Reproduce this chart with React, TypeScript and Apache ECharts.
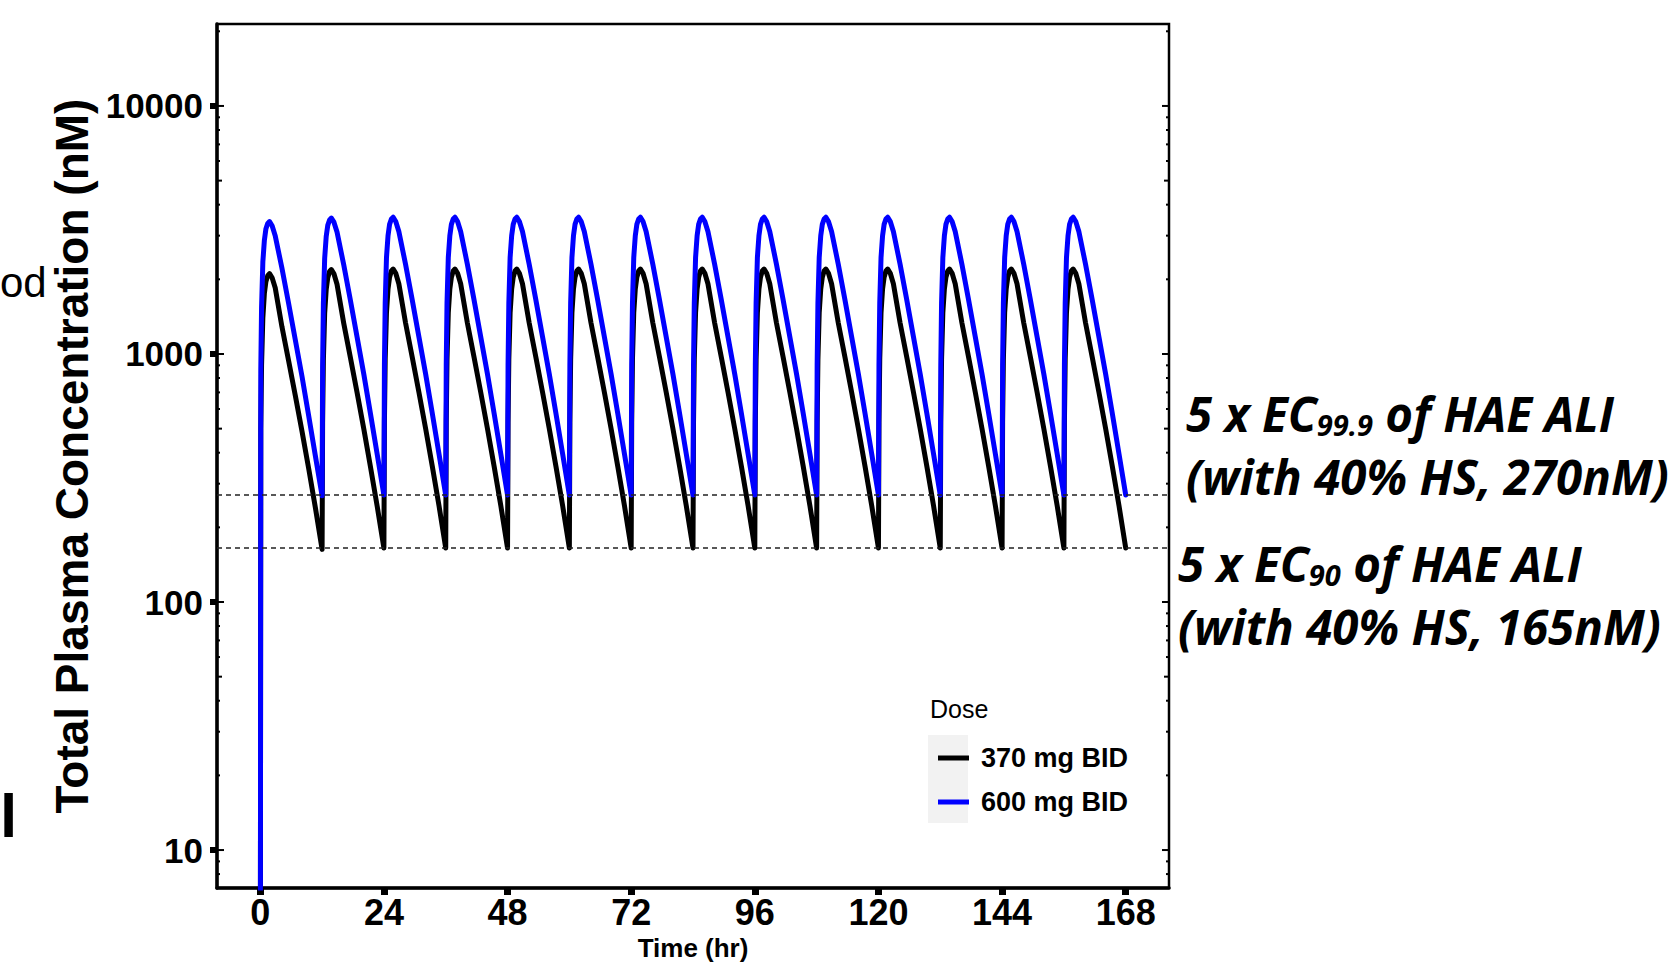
import React, { useEffect, useRef } from "react";
import * as echarts from "echarts";

// ---------- data ----------
const X_MIN = -8.4;
const X_MAX = 176.4;
const Y_MIN = 7.03;
const Y_MAX = 21400;

const X_TICKS = [0, 24, 48, 72, 96, 120, 144, 168];
const Y_TICKS = [10, 100, 1000, 10000];
const LOG_TICKS = [
  8, 9, 10, 20, 30, 40, 50, 60, 70, 80, 90, 100, 200, 300, 400, 500, 600, 700, 800, 900,
  1000, 2000, 3000, 4000, 5000, 6000, 7000, 8000, 9000, 10000, 20000,
];

const SERIES_NAMES = ["370 mg BID", "600 mg BID"];
const THRESHOLDS = [270, 165];

const DOSE_TIMES = [0, 12, 24, 36, 48, 60, 72, 84, 96, 108, 120, 132, 144, 156];
const CYCLE_OFFSETS = [0, 0.1, 0.25, 0.5, 0.8, 1.1, 1.45, 1.8, 2.3, 2.9, 4.2, 5.5, 6.8, 8.1, 9.4, 10.7];
const END_TIME = 168;

const CONC_370 = [
  [1, 500, 900, 1400, 1760, 1960, 2070, 2110, 2030, 1850, 1290, 940, 680, 488, 345, 240],
  [163, 525, 940, 1460, 1820, 2030, 2150, 2190, 2105, 1910, 1330, 965, 698, 498, 350, 243],
  [165, 530, 950, 1470, 1830, 2040, 2160, 2200, 2115, 1920, 1335, 970, 700, 500, 352, 244],
  [165, 530, 950, 1470, 1830, 2040, 2160, 2200, 2115, 1920, 1335, 970, 700, 500, 352, 244],
  [165, 530, 950, 1470, 1830, 2040, 2160, 2200, 2115, 1920, 1335, 970, 700, 500, 352, 244],
  [165, 530, 950, 1470, 1830, 2040, 2160, 2200, 2115, 1920, 1335, 970, 700, 500, 352, 244],
  [165, 530, 950, 1470, 1830, 2040, 2160, 2200, 2115, 1920, 1335, 970, 700, 500, 352, 244],
  [165, 530, 950, 1470, 1830, 2040, 2160, 2200, 2115, 1920, 1335, 970, 700, 500, 352, 244],
  [165, 530, 950, 1470, 1830, 2040, 2160, 2200, 2115, 1920, 1335, 970, 700, 500, 352, 244],
  [165, 530, 950, 1470, 1830, 2040, 2160, 2200, 2115, 1920, 1335, 970, 700, 500, 352, 244],
  [165, 530, 950, 1470, 1830, 2040, 2160, 2200, 2115, 1920, 1335, 970, 700, 500, 352, 244],
  [165, 530, 950, 1470, 1830, 2040, 2160, 2200, 2115, 1920, 1335, 970, 700, 500, 352, 244],
  [165, 530, 950, 1470, 1830, 2040, 2160, 2200, 2115, 1920, 1335, 970, 700, 500, 352, 244],
  [165, 530, 950, 1470, 1830, 2040, 2160, 2200, 2115, 1920, 1335, 970, 700, 500, 352, 244],
];
const END_370 = 165;

const CONC_600 = [
  [1, 860, 1540, 2350, 2880, 3200, 3360, 3420, 3290, 3000, 2220, 1600, 1140, 812, 563, 388],
  [268, 890, 1590, 2430, 2980, 3300, 3470, 3530, 3400, 3100, 2290, 1645, 1168, 828, 573, 394],
  [270, 900, 1600, 2450, 3000, 3330, 3500, 3560, 3420, 3120, 2300, 1650, 1170, 830, 575, 395],
  [270, 900, 1600, 2450, 3000, 3330, 3500, 3560, 3420, 3120, 2300, 1650, 1170, 830, 575, 395],
  [270, 900, 1600, 2450, 3000, 3330, 3500, 3560, 3420, 3120, 2300, 1650, 1170, 830, 575, 395],
  [270, 900, 1600, 2450, 3000, 3330, 3500, 3560, 3420, 3120, 2300, 1650, 1170, 830, 575, 395],
  [270, 900, 1600, 2450, 3000, 3330, 3500, 3560, 3420, 3120, 2300, 1650, 1170, 830, 575, 395],
  [270, 900, 1600, 2450, 3000, 3330, 3500, 3560, 3420, 3120, 2300, 1650, 1170, 830, 575, 395],
  [270, 900, 1600, 2450, 3000, 3330, 3500, 3560, 3420, 3120, 2300, 1650, 1170, 830, 575, 395],
  [270, 900, 1600, 2450, 3000, 3330, 3500, 3560, 3420, 3120, 2300, 1650, 1170, 830, 575, 395],
  [270, 900, 1600, 2450, 3000, 3330, 3500, 3560, 3420, 3120, 2300, 1650, 1170, 830, 575, 395],
  [270, 900, 1600, 2450, 3000, 3330, 3500, 3560, 3420, 3120, 2300, 1650, 1170, 830, 575, 395],
  [270, 900, 1600, 2450, 3000, 3330, 3500, 3560, 3420, 3120, 2300, 1650, 1170, 830, 575, 395],
  [270, 900, 1600, 2450, 3000, 3330, 3500, 3560, 3420, 3120, 2300, 1650, 1170, 830, 575, 395],
];
const END_600 = 270;

// ---------- helpers ----------
function buildSeries(rows: number[][], endValue: number): number[][] {
  const out: number[][] = [];
  DOSE_TIMES.forEach((t0, i) => {
    CYCLE_OFFSETS.forEach((dt, j) => {
      out.push([t0 + dt, rows[i][j]]);
    });
  });
  out.push([END_TIME, endValue]);
  return out;
}

const ARIAL = "'Liberation Sans', Arial, sans-serif";
const NOTE = "'Open Sans', 'Noto Sans', sans-serif";

export default function App() {
  const ref = useRef<HTMLDivElement>(null);

  useEffect(() => {
    if (!ref.current) return;
    const chart = echarts.init(ref.current, undefined, { renderer: "svg" });

    const noteRich = {
      m: { fontFamily: NOTE, fontWeight: "bold", fontStyle: "italic", fontSize: 47.5, lineHeight: 52, color: "#000" },
      s: { fontFamily: NOTE, fontWeight: "bold", fontStyle: "italic", fontSize: 29, lineHeight: 24, verticalAlign: "bottom", color: "#000" },
    };

    const option: any = {
      animation: false,
      backgroundColor: "#ffffff",
      grid: {
        left: 217,
        right: 511,
        top: 24,
        bottom: 75,
        show: true,
        borderColor: "#000",
        borderWidth: 2.5,
        backgroundColor: "transparent",
        containLabel: false,
        outerBoundsMode: "none",
      },
      xAxis: {
        type: "value",
        min: X_MIN,
        max: X_MAX,
        name: "Time (hr)",
        nameLocation: "middle",
        nameGap: 33,
        nameTextStyle: { fontFamily: ARIAL, fontWeight: "bold", fontSize: 26, lineHeight: 26, color: "#000" },
        axisLine: { show: true, onZero: false, lineStyle: { color: "#000", width: 3.5 } },
        axisTick: { show: true, customValues: X_TICKS, length: 7, lineStyle: { color: "#000", width: 7 } },
        axisLabel: {
          customValues: X_TICKS,
          margin: 6,
          fontFamily: ARIAL,
          fontWeight: "bold",
          fontSize: 36,
          color: "#000",
          formatter: (v: number) => String(v),
        },
        splitLine: { show: false },
      },
      yAxis: {
        type: "log",
        logBase: 10,
        min: Y_MIN,
        max: Y_MAX,
        name: "Total Plasma Concentration (nM)",
        nameLocation: "middle",
        nameRotate: 90,
        nameGap: 109,
        nameTextStyle: { fontFamily: ARIAL, fontWeight: "bold", fontSize: 46, color: "#000" },
        axisLine: { show: true, onZero: false, lineStyle: { color: "#000", width: 3.5 } },
        axisTick: { show: true, customValues: Y_TICKS, length: 7, lineStyle: { color: "#000", width: 6 } },
        axisLabel: {
          customValues: Y_TICKS,
          margin: 14,
          fontFamily: ARIAL,
          fontWeight: "bold",
          fontSize: 35,
          color: "#000",
          formatter: (v: number) => String(Math.round(v)),
        },
        splitLine: { show: false },
        minorTick: { show: false },
      },
      legend: {
        data: SERIES_NAMES,
        orient: "vertical",
        left: 933,
        top: 738,
        itemWidth: 31,
        itemHeight: 5,
        itemGap: 14,
        icon: "rect",
        selectedMode: false,
        textStyle: {
          fontFamily: ARIAL,
          fontWeight: "bold",
          fontSize: 27,
          lineHeight: 30,
          color: "#000",
          padding: [0, 0, 0, 7],
        },
      },
      graphic: [
        { type: "rect", z: 0, shape: { x: 928, y: 735, width: 40, height: 88 }, style: { fill: "#f2f2f2" } },
        {
          type: "text",
          x: 930,
          y: 709,
          style: { text: "Dose", fontFamily: ARIAL, fontSize: 25, fill: "#000", align: "left", verticalAlign: "middle" },
        },
        {
          type: "text",
          x: 1186,
          y: 413,
          style: { text: "{m|5 x EC}{s|99.9}{m| of HAE ALI}", rich: noteRich, align: "left", verticalAlign: "middle" },
        },
        {
          type: "text",
          x: 1186,
          y: 476,
          style: { text: "{m|(with 40% HS, 270nM)}", rich: noteRich, align: "left", verticalAlign: "middle" },
        },
        {
          type: "text",
          x: 1178,
          y: 563,
          style: { text: "{m|5 x EC}{s|90}{m| of HAE ALI}", rich: noteRich, align: "left", verticalAlign: "middle" },
        },
        {
          type: "text",
          x: 1178,
          y: 626,
          style: { text: "{m|(with 40% HS, 165nM)}", rich: noteRich, align: "left", verticalAlign: "middle" },
        },
        {
          type: "text",
          x: 0,
          y: 282,
          style: { text: "od", fontFamily: ARIAL, fontSize: 42, fill: "#000", align: "left", verticalAlign: "middle" },
        },
        {
          type: "text",
          x: 0,
          y: 815,
          style: { text: "l", fontFamily: ARIAL, fontWeight: "bold", fontSize: 62, fill: "#000", align: "left", verticalAlign: "middle" },
        },
      ],
      series: [
        {
          name: SERIES_NAMES[0],
          type: "line",
          data: buildSeries(CONC_370, END_370),
          showSymbol: false,
          symbol: "none",
          color: "#000000",
          itemStyle: { color: "#000000" },
          lineStyle: { color: "#000000", width: 5, join: "round", cap: "round" },
          z: 3,
          markLine: {
            silent: true,
            symbol: "none",
            label: { show: false },
            lineStyle: { color: "#222", type: [5, 4], width: 1.6 },
            data: THRESHOLDS.map((v) => ({ yAxis: v })),
          },
        },
        {
          name: SERIES_NAMES[1],
          type: "line",
          data: buildSeries(CONC_600, END_600),
          showSymbol: false,
          symbol: "none",
          color: "#0000ff",
          itemStyle: { color: "#0000ff" },
          lineStyle: { color: "#0000ff", width: 5, join: "round", cap: "round" },
          z: 4,
        },
        {
          type: "custom",
          silent: true,
          z: 6,
          data: LOG_TICKS.map((v) => [X_MIN, v]),
          encode: { x: 0, y: 1 },
          renderItem: (params: any, api: any) => {
            const v = api.value(1);
            const pt = api.coord([api.value(0), v]);
            const cs = params.coordSys;
            const lead = Math.round(v / Math.pow(10, Math.floor(Math.log10(v) + 1e-9)));
            const len = lead === 1 ? 7 : lead === 5 ? 5 : 3;
            const st = { stroke: "#000", lineWidth: 2 };
            return {
              type: "group",
              children: [
                { type: "line", shape: { x1: cs.x, y1: pt[1], x2: cs.x + len, y2: pt[1] }, style: st },
                { type: "line", shape: { x1: cs.x + cs.width, y1: pt[1], x2: cs.x + cs.width - len, y2: pt[1] }, style: st },
              ],
            };
          },
        },
      ],
    };

    chart.setOption(option);
    return () => {
      chart.dispose();
    };
  }, []);

  return (
    <div
      ref={ref}
      style={{ position: "fixed", left: 0, top: 0, width: 1680, height: 963, background: "#fff" }}
    />
  );
}
